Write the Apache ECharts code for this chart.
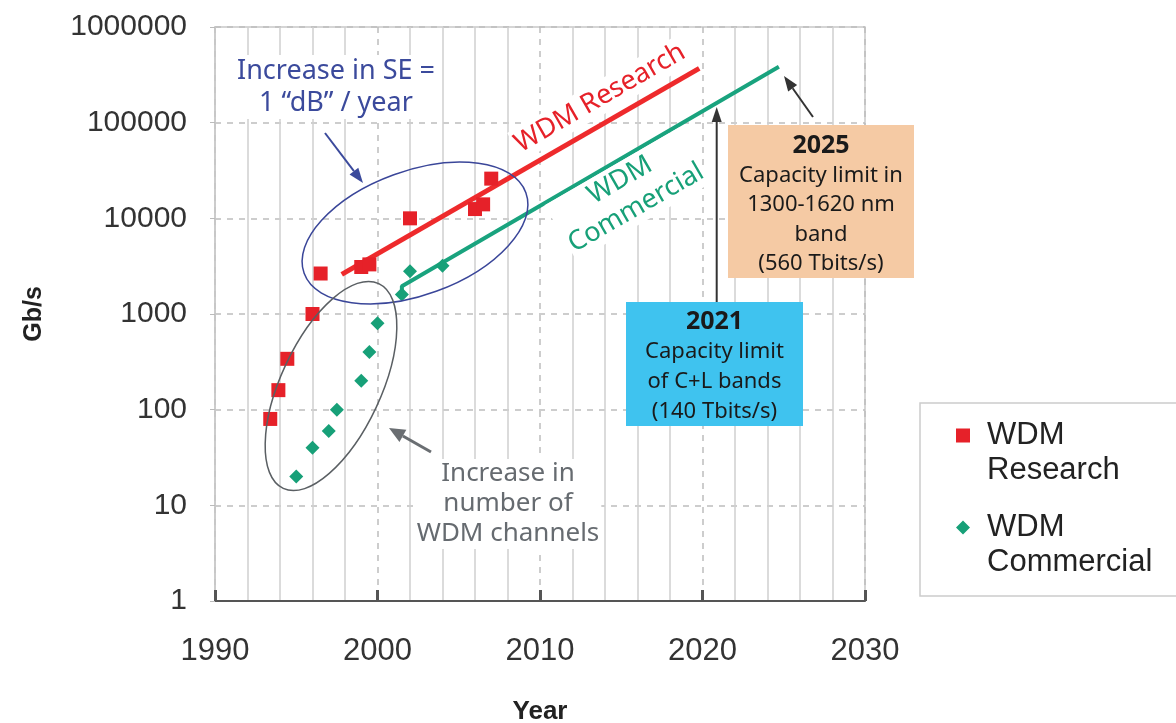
<!DOCTYPE html>
<html>
<head>
<meta charset="utf-8">
<script src="https://cdn.jsdelivr.net/npm/echarts@6/dist/echarts.min.js"></script>
<style>
  html, body { margin: 0; padding: 0; background: #fff; }
  #chart { width: 1176px; height: 723px; }
</style>
</head>
<body>
<div id="chart"></div>
<script>
// data
var researchYears = [1993.4, 1993.9, 1994.45, 1996.0, 1996.5, 1999.0, 1999.5, 2002.0, 2006.0, 2006.5, 2007.0];
var researchRates = [80, 160, 340, 1000, 2650, 3100, 3300, 10000, 12500, 14000, 26000];
var commercialYears = [1995.0, 1996.0, 1997.0, 1997.5, 1999.0, 1999.5, 2000.0, 2001.5, 2002.0, 2004.0];
var commercialRates = [20, 40, 60, 100, 200, 400, 800, 1600, 2800, 3200];
var researchTrendYears = [1997.8, 2019.8];
var researchTrendRates = [2600, 370000];
var commercialTrendYears = [2001.5, 2001.5, 2024.7];
var commercialTrendRates = [1600, 1950, 385000];
var seriesNames = ['WDM Research', 'WDM Commercial'];

var RED = '#e62129';
var GREEN = '#17a078';
var BLUE = '#3b4a9c';
var GREY = '#666b70';
var AXIS_FONT = '"Liberation Sans", Arial, sans-serif';
var NOTE_FONT = '"Noto Sans", "DejaVu Sans", sans-serif';

function pairs(xs, ys) {
    return xs.map(function (x, i) { return [x, ys[i]]; });
}

// straight arrow: a line plus a filled head
function arrow(x1, y1, x2, y2, color, width, headLen, headWidth) {
    var ang = Math.atan2(y2 - y1, x2 - x1);
    var bx = x2 - headLen * Math.cos(ang);
    var by = y2 - headLen * Math.sin(ang);
    var nx = -Math.sin(ang) * headWidth / 2;
    var ny = Math.cos(ang) * headWidth / 2;
    return [
        {type: 'line', z: 30, shape: {x1: x1, y1: y1, x2: bx, y2: by},
            style: {stroke: color, lineWidth: width}},
        {type: 'polygon', z: 30, shape: {points: [[x2, y2], [bx + nx, by + ny], [bx - nx, by - ny]]},
            style: {fill: color}}
    ];
}

function note(text, x, y, size, color, extra) {
    var el = {
        type: 'text', z: 25, x: x, y: y,
        style: {
            text: text, fill: color,
            font: size + 'px ' + NOTE_FONT,
            align: 'center', verticalAlign: 'middle',
            textAlign: 'center', textVerticalAlign: 'middle',
            lineHeight: Math.round(size * 1.17),
            backgroundColor: '#fff', padding: [0, 2]
        }
    };
    if (extra) {
        for (var k in extra) el[k] = extra[k];
    }
    return el;
}

var dom = document.getElementById('chart');
var myChart = echarts.init(dom);

var graphics = [
    // ellipses
    {type: 'ellipse', z: 28, x: 415, y: 233, rotation: 20 * Math.PI / 180,
        shape: {cx: 0, cy: 0, rx: 118, ry: 62},
        style: {fill: null, stroke: '#3a4699', lineWidth: 1.5}},
    {type: 'ellipse', z: 28, x: 331, y: 386, rotation: 65 * Math.PI / 180,
        shape: {cx: 0, cy: 0, rx: 113, ry: 50},
        style: {fill: null, stroke: '#5a5f63', lineWidth: 1.5}},

    // text notes
    note('Increase in SE =\n1 \u201cdB\u201d / year', 336, 87, 27, BLUE),
    note('Increase in\nnumber of\nWDM channels', 508, 504, 26, GREY),
    note('WDM Research', 600, 98, 27, RED, {rotation: 30 * Math.PI / 180}),
    note('WDM\nCommercial', 628, 194, 27, GREEN, {rotation: 30 * Math.PI / 180}),

    // capacity boxes
    {type: 'rect', z: 22, shape: {x: 626, y: 302, width: 177, height: 124},
        style: {fill: '#3fc3ef'}},
    {type: 'text', z: 23, x: 714.5, y: 367,
        style: {
            text: '{b|2021}\n{n|Capacity limit}\n{n|of C+L bands}\n{n|(140 Tbits/s)}',
            align: 'center', verticalAlign: 'middle',
            textAlign: 'center', textVerticalAlign: 'middle',
            fill: '#1a1a1a',
            rich: {
                b: {font: 'bold 25px ' + NOTE_FONT, lineHeight: 30, fill: '#1a1a1a', align: 'center'},
                n: {font: '22px ' + NOTE_FONT, lineHeight: 30, fill: '#1a1a1a', align: 'center'}
            }
        }},
    {type: 'rect', z: 22, shape: {x: 728, y: 125, width: 186, height: 153},
        style: {fill: '#f5caa4'}},
    {type: 'text', z: 23, x: 821, y: 205,
        style: {
            text: '{b|2025}\n{n|Capacity limit in}\n{n|1300-1620 nm}\n{n|band}\n{n|(560 Tbits/s)}',
            align: 'center', verticalAlign: 'middle',
            textAlign: 'center', textVerticalAlign: 'middle',
            fill: '#1a1a1a',
            rich: {
                b: {font: 'bold 25px ' + NOTE_FONT, lineHeight: 29.5, fill: '#1a1a1a', align: 'center'},
                n: {font: '22px ' + NOTE_FONT, lineHeight: 29.5, fill: '#1a1a1a', align: 'center'}
            }
        }}
];
graphics = graphics
    .concat(arrow(325, 133, 363, 183, BLUE, 2, 15, 11))
    .concat(arrow(431, 452, 389, 428, '#6a6e72', 3, 16, 14))
    .concat(arrow(716.7, 302, 716.7, 107, '#333', 2, 15, 10))
    .concat(arrow(813, 117, 784, 76, '#333', 2, 15, 11));

var option = {
    animation: false,
    backgroundColor: '#fff',
    grid: {
        left: 215, right: 311, top: 27, bottom: 122,
        outerBoundsMode: 'none',
        show: true, borderColor: '#c8c8c8', borderWidth: 1.5
    },
    legend: {
        orient: 'vertical',
        left: 920, top: 403,
        padding: [15, 40, 16, 36],
        itemGap: 22,
        itemWidth: 14, itemHeight: 49,
        borderColor: '#cccccc', borderWidth: 1.5,
        data: [
            {name: seriesNames[0], icon: 'path://M0,0L10,0L10,10L0,10Z M5,34.9L5,35'},
            {name: seriesNames[1], icon: 'path://M5,0L10,5L5,10L0,5Z M5,34.9L5,35'}
        ],
        formatter: function (name) { return name.replace(' ', '\n'); },
        textStyle: {
            fontFamily: AXIS_FONT, fontSize: 31, color: '#222',
            lineHeight: 35, padding: [0, 0, 0, 12]
        }
    },
    xAxis: {
        type: 'value',
        min: 1990, max: 2030, interval: 10,
        name: 'Year', nameLocation: 'middle', nameGap: 98,
        nameTextStyle: {fontFamily: AXIS_FONT, fontSize: 26, fontWeight: 'bold', color: '#222'},
        axisLine: {lineStyle: {color: '#555', width: 2}},
        axisTick: {inside: true, length: 11, lineStyle: {color: '#555', width: 3}},
        axisLabel: {
            fontFamily: AXIS_FONT, fontSize: 31, color: '#333', margin: 35,
            formatter: function (v) { return String(v); }
        },
        splitLine: {show: true, lineStyle: {type: [6, 6], color: '#bdbdbd', width: 1.5}},
        minorTick: {show: false, splitNumber: 5},
        minorSplitLine: {show: true, lineStyle: {color: '#cfcfcf', width: 1.5}}
    },
    yAxis: {
        type: 'log', logBase: 10,
        min: 1, max: 1000000,
        name: 'Gb/s', nameLocation: 'middle', nameGap: 168, nameRotate: 90,
        nameTextStyle: {fontFamily: AXIS_FONT, fontSize: 25, fontWeight: 'bold', color: '#222'},
        axisLine: {show: true, lineStyle: {color: '#c8c8c8', width: 1.5}},
        axisTick: {show: true, length: 5, lineStyle: {color: '#bbb'}},
        axisLabel: {
            fontFamily: AXIS_FONT, fontSize: 30, color: '#333', margin: 28,
            formatter: function (v) { return String(Math.round(v)); }
        },
        splitLine: {show: true, lineStyle: {type: [6, 6], color: '#bdbdbd', width: 1.5}}
    },
    series: [
        {
            name: 'research trend', type: 'line', z: 2,
            data: pairs(researchTrendYears, researchTrendRates),
            symbol: 'none', silent: true,
            lineStyle: {color: '#ee2a2c', width: 5}
        },
        {
            name: 'commercial trend', type: 'line', z: 2,
            data: pairs(commercialTrendYears, commercialTrendRates),
            symbol: 'none', silent: true,
            lineStyle: {color: '#19a37e', width: 4}
        },
        {
            name: seriesNames[0], type: 'scatter', z: 4,
            symbol: 'rect', symbolSize: 14,
            data: pairs(researchYears, researchRates),
            itemStyle: {color: RED, opacity: 1}
        },
        {
            name: seriesNames[1], type: 'scatter', z: 4,
            symbol: 'diamond', symbolSize: 14,
            data: pairs(commercialYears, commercialRates),
            itemStyle: {color: GREEN, opacity: 1}
        }
    ],
    graphic: {elements: graphics}
};

myChart.setOption(option);
</script>
</body>
</html>
